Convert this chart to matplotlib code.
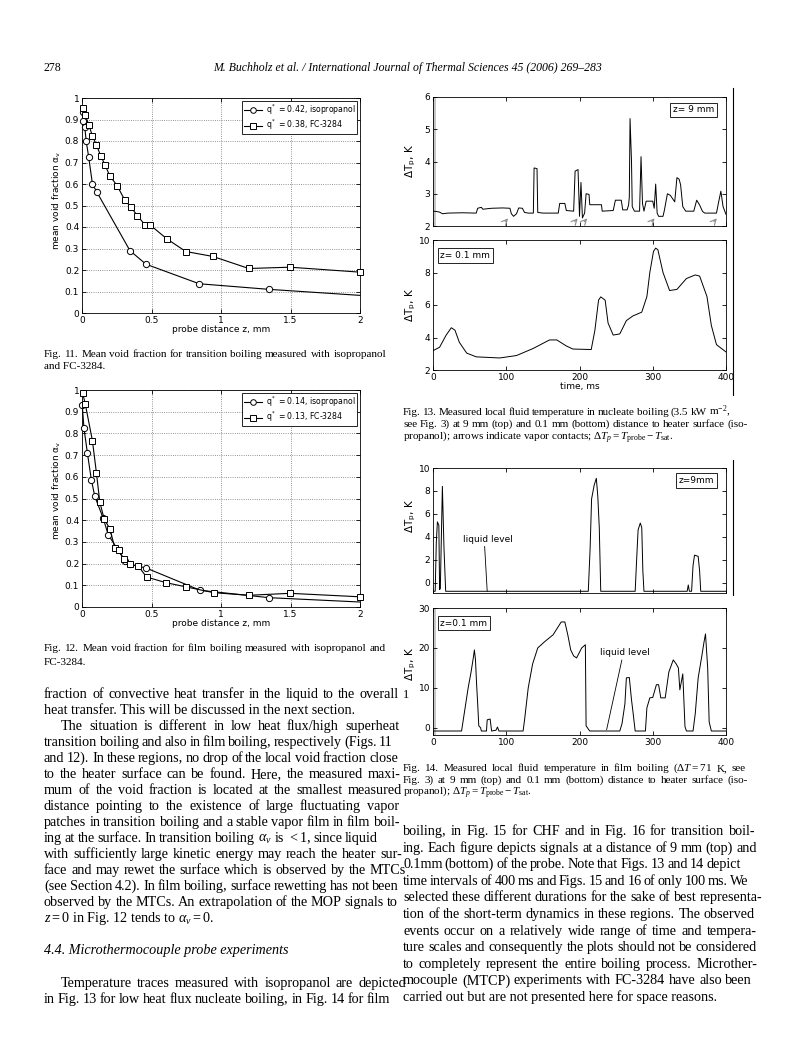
import numpy as np
import matplotlib
matplotlib.use('Agg')
import matplotlib.pyplot as plt
from matplotlib.lines import Line2D
from matplotlib.patches import Rectangle

# ---------------- data ----------------
# Fig. 11 (transition boiling)
iso11_z = [0.005, 0.01, 0.02, 0.03, 0.048, 0.075, 0.108, 0.345, 0.46, 0.843, 1.345, 2.0]
iso11_a = [0.935, 0.895, 0.865, 0.80, 0.726, 0.60, 0.561, 0.29, 0.227, 0.136, 0.11, 0.082]
fc11_z = [0.007, 0.024, 0.048, 0.075, 0.104, 0.135, 0.166, 0.20, 0.253, 0.308, 0.349,
          0.398, 0.453, 0.489, 0.61, 0.747, 0.942, 1.2, 1.496, 2.0]
fc11_a = [0.954, 0.92, 0.876, 0.824, 0.781, 0.731, 0.688, 0.638, 0.592, 0.525, 0.495,
          0.453, 0.41, 0.41, 0.345, 0.286, 0.263, 0.207, 0.213, 0.19]
leg11 = [r"$\mathsf{q^*}$ = 0.42, isopropanol", r"$\mathsf{q^*}$ = 0.38, FC-3284"]

# Fig. 12 (film boiling)
iso12_z = [0.002, 0.014, 0.039, 0.067, 0.092, 0.152, 0.188, 0.31, 0.345, 0.46, 0.85, 1.345, 2.0]
iso12_a = [0.93, 0.824, 0.709, 0.587, 0.51, 0.41, 0.334, 0.211, 0.196, 0.18, 0.077, 0.043, 0.023]
fc12_z = [0.005, 0.024, 0.075, 0.104, 0.128, 0.159, 0.2, 0.236, 0.267, 0.301, 0.345,
          0.405, 0.465, 0.605, 0.747, 0.947, 1.2, 1.496, 2.0]
fc12_a = [0.985, 0.934, 0.766, 0.617, 0.484, 0.406, 0.361, 0.273, 0.262, 0.219, 0.196,
          0.188, 0.138, 0.112, 0.093, 0.066, 0.054, 0.063, 0.047]
leg12 = [r"$\mathsf{q^*}$ = 0.14, isopropanol", r"$\mathsf{q^*}$ = 0.13, FC-3284"]

xticks_z = [0, 0.5, 1, 1.5, 2]
xticklabels_z = ["0", "0.5", "1", "1.5", "2"]
yticks_a = [0, 0.1, 0.2, 0.3, 0.4, 0.5, 0.6, 0.7, 0.8, 0.9, 1.0]
yticklabels_a = ["0", "0.1", "0.2", "0.3", "0.4", "0.5", "0.6", "0.7", "0.8", "0.9", "1"]

# Fig. 13 top (z = 9 mm)
t13a = [0, 5, 9, 13, 20, 40, 59, 61, 66, 68, 80, 95, 105, 107, 110, 114, 117, 122, 125, 130,
        137, 138, 142, 143, 150, 171, 173, 180, 182, 192, 194, 198, 200, 202, 204, 207, 209,
        213, 214, 230, 231, 246, 249, 257, 259, 265, 267, 268, 269, 271, 272, 275, 282, 284,
        286, 288, 291, 300, 302, 304, 306, 308, 314, 316, 320, 324, 330, 333, 336, 338, 341,
        345, 352, 356, 360, 364, 368, 371, 387, 390, 393, 396, 400]
v13a = [2.46, 2.45, 2.43, 2.38, 2.40, 2.41, 2.40, 2.55, 2.58, 2.52, 2.55, 2.56, 2.55, 2.38,
        2.30, 2.38, 2.56, 2.55, 2.42, 2.40, 2.40, 3.80, 3.78, 2.42, 2.40, 2.40, 2.70, 2.70,
        2.48, 2.46, 3.70, 3.75, 2.30, 3.35, 2.25, 2.40, 3.00, 2.98, 2.66, 2.66, 2.46, 2.48,
        2.80, 2.80, 2.50, 2.50, 2.65, 2.90, 5.33, 4.00, 2.60, 2.46, 2.46, 4.15, 2.70, 2.46,
        2.77, 2.77, 2.55, 3.30, 2.40, 2.30, 2.30, 2.50, 3.00, 2.95, 2.75, 3.50, 3.45, 3.28,
        2.60, 2.46, 2.46, 2.46, 2.80, 2.65, 2.45, 2.40, 2.40, 2.75, 3.08, 2.60, 2.36]
arrows13 = [105, 200, 213, 305, 390]
# Fig. 13 bottom (z = 0.1 mm)
t13b = [0, 9, 18, 25, 30, 36, 46, 59, 91, 114, 137, 159, 169, 182, 191, 216, 221, 226, 229,
        235, 239, 246, 255, 264, 273, 285, 292, 296, 301, 304, 307, 314, 323, 333, 346, 358,
        364, 374, 380, 387, 400]
v13b = [3.19, 3.4, 4.15, 4.6, 4.45, 3.7, 3.04, 2.81, 2.74, 2.89, 3.33, 3.85, 3.85, 3.48, 3.29,
        3.26, 4.44, 6.3, 6.5, 6.3, 4.89, 4.15, 4.22, 5.04, 5.33, 5.56, 6.52, 8.0, 9.3, 9.5,
        9.4, 8.0, 6.89, 6.96, 7.63, 7.85, 7.78, 6.52, 4.74, 3.56, 3.11]

# Fig. 14 top (z = 9 mm)
t14a = [0, 3, 4.5, 6, 8, 9, 10, 12.8, 15, 17.3, 212, 214.5, 216.5, 220, 223, 225, 227, 229,
        276, 278, 280, 283, 285, 286.5, 288, 347, 348.5, 350, 353, 355, 357, 362, 364, 365.5, 400]
v14a = [-0.75, -0.75, 3.5, 5.3, 5.0, -0.6, -0.5, 8.4, 3.0, -0.75, -0.75, 3.0, 7.3, 8.5, 9.1,
        7.5, 4.8, -0.75, -0.75, 2.0, 4.6, 5.2, 4.8, 1.0, -0.75, -0.75, -0.2, -0.75, -0.75, 1.5,
        2.4, 2.3, 1.0, -0.75, -0.75]
# Fig. 14 bottom (z = 0.1 mm)
t14b = [0, 39, 43, 48, 52, 55, 56.5, 58, 59.5, 61, 62.5, 65, 66, 73, 74, 78, 80, 86, 88, 90,
        123, 125, 130, 136, 143, 152, 164, 175, 180, 184, 188, 192, 196, 203, 208, 209, 212,
        214, 255, 258, 262, 264, 268, 271, 273, 276, 290, 292, 296, 300, 305, 308, 311, 317,
        322, 328, 332, 335, 337, 341, 344, 346, 355, 358, 362, 367, 370, 372, 375, 377, 380, 400]
v14b = [-0.8, -0.8, 4, 10, 14, 17.5, 19.5, 17, 11, 6, 0.5, 0, -0.8, -0.8, 2, 2.2, -0.8, -0.6,
        0.2, -0.8, -0.8, 2, 10, 16, 20, 21.5, 23.3, 26.5, 26.5, 23.3, 19.5, 18, 17.5, 20, 20.8,
        0.5, -0.3, -0.8, -0.8, 1, 6, 12.5, 12.6, 7, 4, -0.8, -0.8, 5, 7.5, 7.6, 10.8, 10.8, 7.5,
        7.5, 14, 17, 16, 15, 9.5, 13.5, 0.3, -0.8, -0.8, 3.5, 12.5, 18, 21.5, 23.5, 15, 1.5,
        -0.8, -0.8]
xticks_t = [0, 100, 200, 300, 400]

# ---------------- page ----------------
W, H = 794, 1059
plt.rcParams['font.family'] = 'DejaVu Sans'
plt.rcParams['mathtext.fontset'] = 'custom'
plt.rcParams['mathtext.rm'] = 'Liberation Serif'
plt.rcParams['mathtext.it'] = 'Liberation Serif:italic'
plt.rcParams['mathtext.sf'] = 'DejaVu Sans'

fig = plt.figure(figsize=(W / 100, H / 100), dpi=100)
fig.patch.set_facecolor('white')
renderer = fig.canvas.get_renderer()


def add_ax(x0, y0, x1, y1):
    return fig.add_axes([x0 / W, 1 - y1 / H, (x1 - x0) / W, (y1 - y0) / H])


def style(ax):
    ax.tick_params(direction='in', length=3, width=0.6, labelsize=6.5, pad=2,
                   top=True, right=True)
    for s in ax.spines.values():
        s.set_linewidth(0.6)


def void_plot(ax, iz, ia, fz, fa, labels):
    style(ax)
    ax.plot(iz, ia, color='k', lw=0.8, marker='o', ms=4.5, mfc='white', mec='k', mew=0.7,
            markevery=list(range(len(iz) - 1)), clip_on=False, zorder=3, label=labels[0])
    ax.plot(fz, fa, color='k', lw=0.8, marker='s', ms=4.5, mfc='white', mec='k', mew=0.7,
            clip_on=False, zorder=3, label=labels[1])
    ax.set_xlim(0, 2)
    ax.set_ylim(0, 1)
    ax.set_xticks(xticks_z)
    ax.set_xticklabels(xticklabels_z)
    ax.set_yticks(yticks_a)
    ax.set_yticklabels(yticklabels_a)
    ax.grid(True, ls=':', color='0.45', lw=0.6)
    leg = ax.legend(loc='upper right', fontsize=5.6, fancybox=False, framealpha=1,
                    edgecolor='k', borderpad=0.25, handlelength=2.3, handletextpad=0.5,
                    labelspacing=0.1, borderaxespad=0.35, markerscale=0.9)
    leg.get_frame().set_linewidth(0.6)
    leg.set_zorder(5)


ax11 = add_ax(82, 98, 360, 313)
void_plot(ax11, iso11_z, iso11_a, fc11_z, fc11_a, leg11)
ax12 = add_ax(82, 390, 360, 607)
void_plot(ax12, iso12_z, iso12_a, fc12_z, fc12_a, leg12)

for yc in (200, 490):
    fig.text(57 / W, 1 - yc / H, r"mean void fraction $\mathsf{\alpha_v}$", rotation=90,
             ha='center', va='center', fontsize=6.5)
fig.text(221 / W, 1 - 330 / H, "probe distance z, mm", ha='center', va='center', fontsize=6.5)
fig.text(221 / W, 1 - 624 / H, "probe distance z, mm", ha='center', va='center', fontsize=6.5)


def trace_ax(ax, t, v, ylim, yticks, labels_x, box_text, box_loc, band=False):
    style(ax)
    if band:
        ax.add_patch(Rectangle((0, 0), 0.009, 1, transform=ax.transAxes,
                               color='0.78', lw=0, zorder=1))
    ax.plot(t, v, color='k', lw=0.7, zorder=2)
    ax.set_xlim(0, 400)
    ax.set_ylim(*ylim)
    ax.set_yticks(yticks)
    ax.set_xticks(xticks_t)
    if not labels_x:
        ax.set_xticklabels([])
    if box_loc == 'right':
        ax.text(0.96, 0.9, box_text, transform=ax.transAxes, ha='right', va='center',
                fontsize=6.5, bbox=dict(boxstyle='square,pad=0.3', fc='white', ec='k', lw=0.6))
    else:
        ax.text(0.025, 0.88, box_text, transform=ax.transAxes, ha='left', va='center',
                fontsize=6.5, bbox=dict(boxstyle='square,pad=0.3', fc='white', ec='k', lw=0.6))


ax13a = add_ax(433, 97, 726, 226)
trace_ax(ax13a, t13a, v13a, (2, 6), [2, 3, 4, 5, 6], False, "z= 9 mm", 'right', band=True)
for ta in arrows13:
    ax13a.annotate('', xy=(ta, 2.3), xytext=(ta - 9, 2.07),
                   arrowprops=dict(arrowstyle='->', color='0.55', lw=0.8))
ax13b = add_ax(433, 240, 726, 370)
trace_ax(ax13b, t13b, v13b, (2, 10), [2, 4, 6, 8, 10], True, "z= 0.1 mm", 'left')
fig.text(580 / W, 1 - 387 / H, "time, ms", ha='center', va='center', fontsize=6.5)

ax14a = add_ax(433, 468, 726, 593)
trace_ax(ax14a, t14a, v14a, (-0.9, 10), [0, 2, 4, 6, 8, 10], False, "z=9mm", 'right')
ax14a.annotate("liquid level", xy=(74, -0.75), xytext=(41, 3.8), fontsize=6.5,
               ha='left', va='center',
               arrowprops=dict(arrowstyle='-', color='k', lw=0.6,
                               shrinkA=0, shrinkB=0, relpos=(0.43, 0)))
ax14b = add_ax(433, 608, 726, 735)
trace_ax(ax14b, t14b, v14b, (-1.8, 30), [0, 10, 20, 30], True, "z=0.1 mm", 'left', band=True)
ax14b.annotate("liquid level", xy=(237, -0.5), xytext=(228, 18.8), fontsize=6.5,
               ha='left', va='center',
               arrowprops=dict(arrowstyle='-', color='k', lw=0.6,
                               shrinkA=0, shrinkB=0, relpos=(0.45, 0)))

for yc in (161, 305, 516, 664):
    fig.text(411 / W, 1 - yc / H, r"$\mathsf{\Delta T_p}$, K", rotation=90,
             ha='center', va='center', fontsize=7.5)

fig.add_artist(Line2D([733 / W, 733 / W], [1 - 88 / H, 1 - 395 / H], color='k', lw=0.8))
fig.add_artist(Line2D([733 / W, 733 / W], [1 - 460 / H, 1 - 595 / H], color='k', lw=0.8))

# ---------------- text ----------------
SERIF = 'Liberation Serif'


def tokens(s):
    out, cur, inm = [], '', False
    for ch in s:
        if ch == '$':
            inm = not inm
            cur += ch
        elif ch == ' ' and not inm:
            if cur:
                out.append(cur)
            cur = ''
        else:
            cur += ch
    if cur:
        out.append(cur)
    return out


def put_line(x0, y, s, size, x1=None, style='normal'):
    kw = dict(family=SERIF, style=style, va='baseline', ha='left', fontsize=size)
    if x1 is None:
        fig.text(x0 / W, 1 - y / H, s, **kw)
        return
    words = tokens(s)
    n = max(len(words) - 1, 1)
    arts = [fig.text(0, 1 - y / H, w, **kw) for w in words]
    ws = [a.get_window_extent(renderer).width for a in arts]
    gap = max((x1 - x0 - sum(ws)) / n, 1.5)
    x = x0
    for a, w in zip(arts, ws):
        a.set_x(x / W)
        x += w + gap


put_line(43, 71, "278", 8.5)
fig.text(408 / W, 1 - 71 / H,
         "M. Buchholz et al. / International Journal of Thermal Sciences 45 (2006) 269\u2013283",
         ha='center', va='baseline', fontsize=8.5, family=SERIF, style='italic')

CAP = 8.0
put_line(44, 357, "Fig. 11. Mean void fraction for transition boiling measured with isopropanol", CAP, 386)
put_line(44, 369, "and FC-3284.", CAP)
put_line(44, 651, "Fig. 12. Mean void fraction for film boiling measured with isopropanol and", CAP, 386)
put_line(44, 665, "FC-3284.", CAP)

put_line(403, 415, r"Fig. 13. Measured local fluid temperature in nucleate boiling (3.5 kW m$^{-2}$,", CAP, 730)
put_line(403, 427, "see Fig. 3) at 9 mm (top) and 0.1 mm (bottom) distance to heater surface (iso-", CAP, 748)
put_line(403, 440, r"propanol); arrows indicate vapor contacts; $\Delta T_p = T_{\rm probe} - T_{\rm sat}$.", CAP)

put_line(403, 771, r"Fig. 14. Measured local fluid temperature in film boiling ($\Delta T=71$ K, see", CAP, 746)
put_line(403, 783, "Fig. 3) at 9 mm (top) and 0.1 mm (bottom) distance to heater surface (iso-", CAP, 748)
put_line(403, 795, r"propanol); $\Delta T_p = T_{\rm probe} - T_{\rm sat}$.", CAP)

BODY = 10.2
left_lines = [
    (44, "fraction of convective heat transfer in the liquid to the overall", 399),
    (44, "heat transfer. This will be discussed in the next section.", None),
    (61, "The situation is different in low heat flux/high superheat", 399),
    (44, "transition boiling and also in film boiling, respectively (Figs. 11", 393),
    (44, "and 12). In these regions, no drop of the local void fraction close", 398),
    (44, "to the heater surface can be found. Here, the measured maxi-", 401),
    (44, "mum of the void fraction is located at the smallest measured", 402),
    (44, "distance pointing to the existence of large fluctuating vapor", 399),
    (44, "patches in transition boiling and a stable vapor film in film boil-", 400),
    (44, r"ing at the surface. In transition boiling $\alpha_v$ is $<1$, since liquid", 378),
    (44, "with sufficiently large kinetic energy may reach the heater sur-", 402),
    (44, "face and may rewet the surface which is observed by the MTCs", 406),
    (44, "(see Section 4.2). In film boiling, surface rewetting has not been", 399),
    (44, "observed by the MTCs. An extrapolation of the MOP signals to", 398),
    (44, r"$z=0$ in Fig. 12 tends to $\alpha_v=0$.", None),
]
y = 698
for x0, s, x1 in left_lines:
    put_line(x0, y, s, BODY, x1)
    y += 16
put_line(44, 954, "4.4. Microthermocouple probe experiments", BODY, None, style='italic')
put_line(61, 987, "Temperature traces measured with isopropanol are depicted", BODY, 406)
put_line(44, 1003, "in Fig. 13 for low heat flux nucleate boiling, in Fig. 14 for film", BODY, 390)
put_line(403, 698, "1", 9)

right_lines = [
    ("boiling, in Fig. 15 for CHF and in Fig. 16 for transition boil-", 755),
    ("ing. Each figure depicts signals at a distance of 9 mm (top) and", 757),
    ("0.1mm (bottom) of the probe. Note that Figs. 13 and 14 depict", 741),
    ("time intervals of 400 ms and Figs. 15 and 16 of only 100 ms. We", 748),
    ("selected these different durations for the sake of best representa-", 762),
    ("tion of the short-term dynamics in these regions. The observed", 755),
    ("events occur on a relatively wide range of time and tempera-", 757),
    ("ture scales and consequently the plots should not be considered", 757),
    ("to completely represent the entire boiling process. Microther-", 757),
    ("mocouple (MTCP) experiments with FC-3284 have also been", 752),
    ("carried out but are not presented here for space reasons.", None),
]
y = 835
for s, x1 in right_lines:
    put_line(403, y, s, BODY, x1)
    y += 16.6

fig.savefig('out.png', dpi=100, facecolor='white')
